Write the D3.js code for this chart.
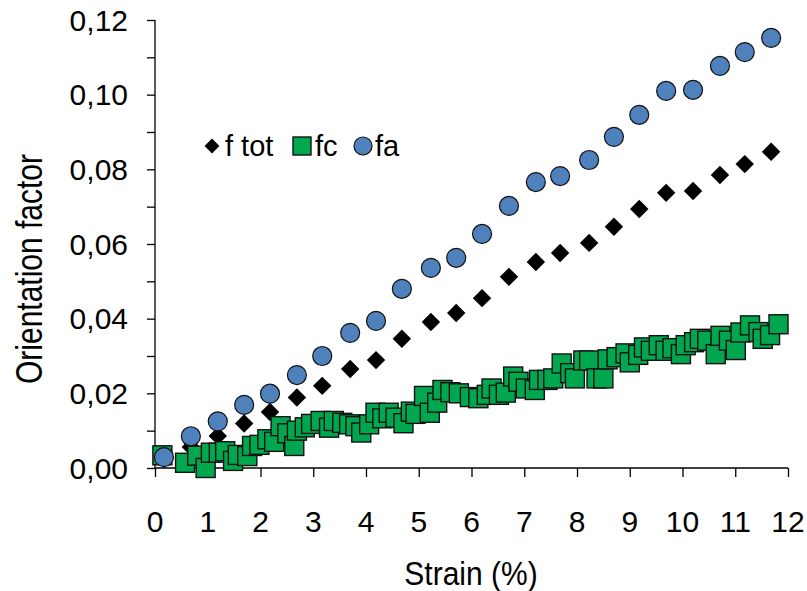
<!DOCTYPE html>
<html><head><meta charset="utf-8">
<script src="https://cdn.jsdelivr.net/npm/d3@7"></script>
<style>body{margin:0;background:#fff}svg text{font-family:"Liberation Sans",Arial,sans-serif;fill:#000}</style>
</head><body>
<script>
const strain = [0.17,0.68,1.19,1.69,2.18,2.69,3.17,3.70,4.19,4.68,5.23,5.71,6.20,6.71,7.22,7.68,8.23,8.70,9.18,9.69,10.2,10.71,11.18,11.68];
const fTot = [0.0025,0.0056,0.0086,0.0119,0.0150,0.0189,0.0220,0.0265,0.0289,0.0346,0.0391,0.0415,0.0455,0.0512,0.0552,0.0576,0.0603,0.0646,0.0694,0.0737,0.0742,0.0785,0.0814,0.0847];
const fA = [0.0029,0.0085,0.0125,0.0169,0.0199,0.0249,0.0300,0.0362,0.0394,0.0480,0.0536,0.0563,0.0627,0.0702,0.0766,0.0782,0.0825,0.0887,0.0946,0.1010,0.1013,0.1077,0.1114,0.1152];
const fcStrain = [0.14,0.57,0.80,0.96,1.06,1.21,1.33,1.48,1.57,1.75,1.84,1.98,2.13,2.26,2.38,2.51,2.64,2.69,2.84,2.96,3.14,3.30,3.39,3.55,3.68,3.80,3.91,4.06,4.18,4.31,4.43,4.56,4.71,4.85,4.94,5.10,5.21,5.35,5.45,5.60,5.76,5.97,6.13,6.29,6.38,6.52,6.65,6.79,6.89,7.03,7.20,7.28,7.44,7.55,7.71,7.87,7.96,8.12,8.23,8.37,8.50,8.58,8.75,8.92,9.00,9.16,9.27,9.40,9.55,9.68,9.81,9.97,10.06,10.22,10.33,10.47,10.63,10.72,10.88,11.01,11.10,11.28,11.44,11.52,11.66,11.82];
const fC = [0.0034,0.0014,0.0033,0.0000,0.0041,0.0041,0.0045,0.0019,0.0035,0.0032,0.0059,0.0062,0.0077,0.0070,0.0112,0.0093,0.0059,0.0100,0.0109,0.0118,0.0126,0.0108,0.0126,0.0121,0.0117,0.0112,0.0095,0.0117,0.0148,0.0133,0.0148,0.0135,0.0120,0.0151,0.0145,0.0193,0.0148,0.0175,0.0209,0.0203,0.0200,0.0190,0.0187,0.0196,0.0213,0.0196,0.0202,0.0245,0.0231,0.0213,0.0209,0.0236,0.0236,0.0240,0.0280,0.0254,0.0240,0.0288,0.0288,0.0240,0.0240,0.0291,0.0297,0.0307,0.0283,0.0303,0.0323,0.0314,0.0329,0.0314,0.0321,0.0305,0.0329,0.0337,0.0346,0.0341,0.0305,0.0354,0.0341,0.0316,0.0363,0.0382,0.0364,0.0346,0.0356,0.0385];
const xTicks = [0,1,2,3,4,5,6,7,8,9,10,11,12];
const yTicks = [0,0.02,0.04,0.06,0.08,0.10,0.12];
const yMinorTicks = [0,0.01,0.02,0.03,0.04,0.05,0.06,0.07,0.08,0.09,0.10,0.11,0.12];
const legendItems = ["f tot","fc","fa"];

const W=807,H=591,FS=30;
const svg=d3.select("body").append("svg").attr("width",W).attr("height",H);
const x=d3.scaleLinear().domain([0,12]).range([155,788]);
const y=d3.scaleLinear().domain([0,0.12]).range([468,20]);
const fmt=v=>d3.format(".2f")(v).replace(".",",");

// y axis
const ya=svg.append("g").attr("transform","translate(155,0)")
  .call(d3.axisLeft(y).tickValues(yMinorTicks).tickSize(8).tickFormat(""));
ya.select(".domain").attr("d","M0,"+y(0.12)+"V"+y(0));
ya.selectAll("line,path").attr("stroke","#000").attr("stroke-width",1.3);
svg.append("g").selectAll("text").data(yTicks).join("text")
  .attr("x",128).attr("y",d=>y(d)).attr("dy","0.36em").attr("text-anchor","end")
  .attr("font-size",FS).text(fmt);

// x axis
const xa=svg.append("g").attr("transform","translate(0,468)")
  .call(d3.axisBottom(x).tickValues(xTicks).tickSize(9).tickFormat(""));
xa.select(".domain").attr("d","M"+x(0)+",0H"+x(12));
xa.selectAll("line,path").attr("stroke","#000").attr("stroke-width",1.3);
svg.append("g").selectAll("text").data(xTicks).join("text")
  .attr("x",d=>x(d)).attr("y",532).attr("text-anchor","middle")
  .attr("font-size",FS).text(d=>d);

svg.append("text").attr("transform","translate(471,585) scale(1,1.12)").attr("text-anchor","middle").attr("font-size",FS).text("Strain (%)");
svg.append("text").attr("transform","translate(42,269) rotate(-90) scale(1,1.2)").attr("text-anchor","middle").attr("font-size",FS).text("Orientation factor");

// f tot
svg.append("g").selectAll("path").data(strain).join("path")
  .attr("transform",(d,i)=>`translate(${x(d)},${y(fTot[i])}) rotate(45)`)
  .attr("d",d3.symbol().type(d3.symbolSquare).size(170)).attr("fill","#000");
// fc
const s=19;
svg.append("g").selectAll("rect").data(fcStrain).join("rect")
  .attr("x",d=>x(d)-s/2).attr("y",(d,i)=>y(fC[i])-s/2).attr("width",s).attr("height",s)
  .attr("fill","#00A74F").attr("stroke","#111").attr("stroke-width",1.4);
// fa
svg.append("g").selectAll("circle").data(strain).join("circle")
  .attr("cx",d=>x(d)).attr("cy",(d,i)=>y(fA[i])).attr("r",9.5)
  .attr("fill","#4F81BD").attr("stroke","#111").attr("stroke-width",1.2);

// legend
const lg=svg.append("g");
lg.append("path").attr("transform","translate(212,146) rotate(45)").attr("d",d3.symbol().type(d3.symbolSquare).size(110)).attr("fill","#000");
lg.append("rect").attr("x",293).attr("y",137).attr("width",18).attr("height",18).attr("fill","#00A74F").attr("stroke","#111").attr("stroke-width",1.4);
lg.append("circle").attr("cx",363).attr("cy",146).attr("r",9).attr("fill","#4F81BD").attr("stroke","#111").attr("stroke-width",1.2);
const lx=[225,315,375];
lg.selectAll("text").data(legendItems).join("text").attr("x",(d,i)=>lx[i]).attr("y",156).attr("font-size",FS-1).text(d=>d);
</script>
</body></html>
